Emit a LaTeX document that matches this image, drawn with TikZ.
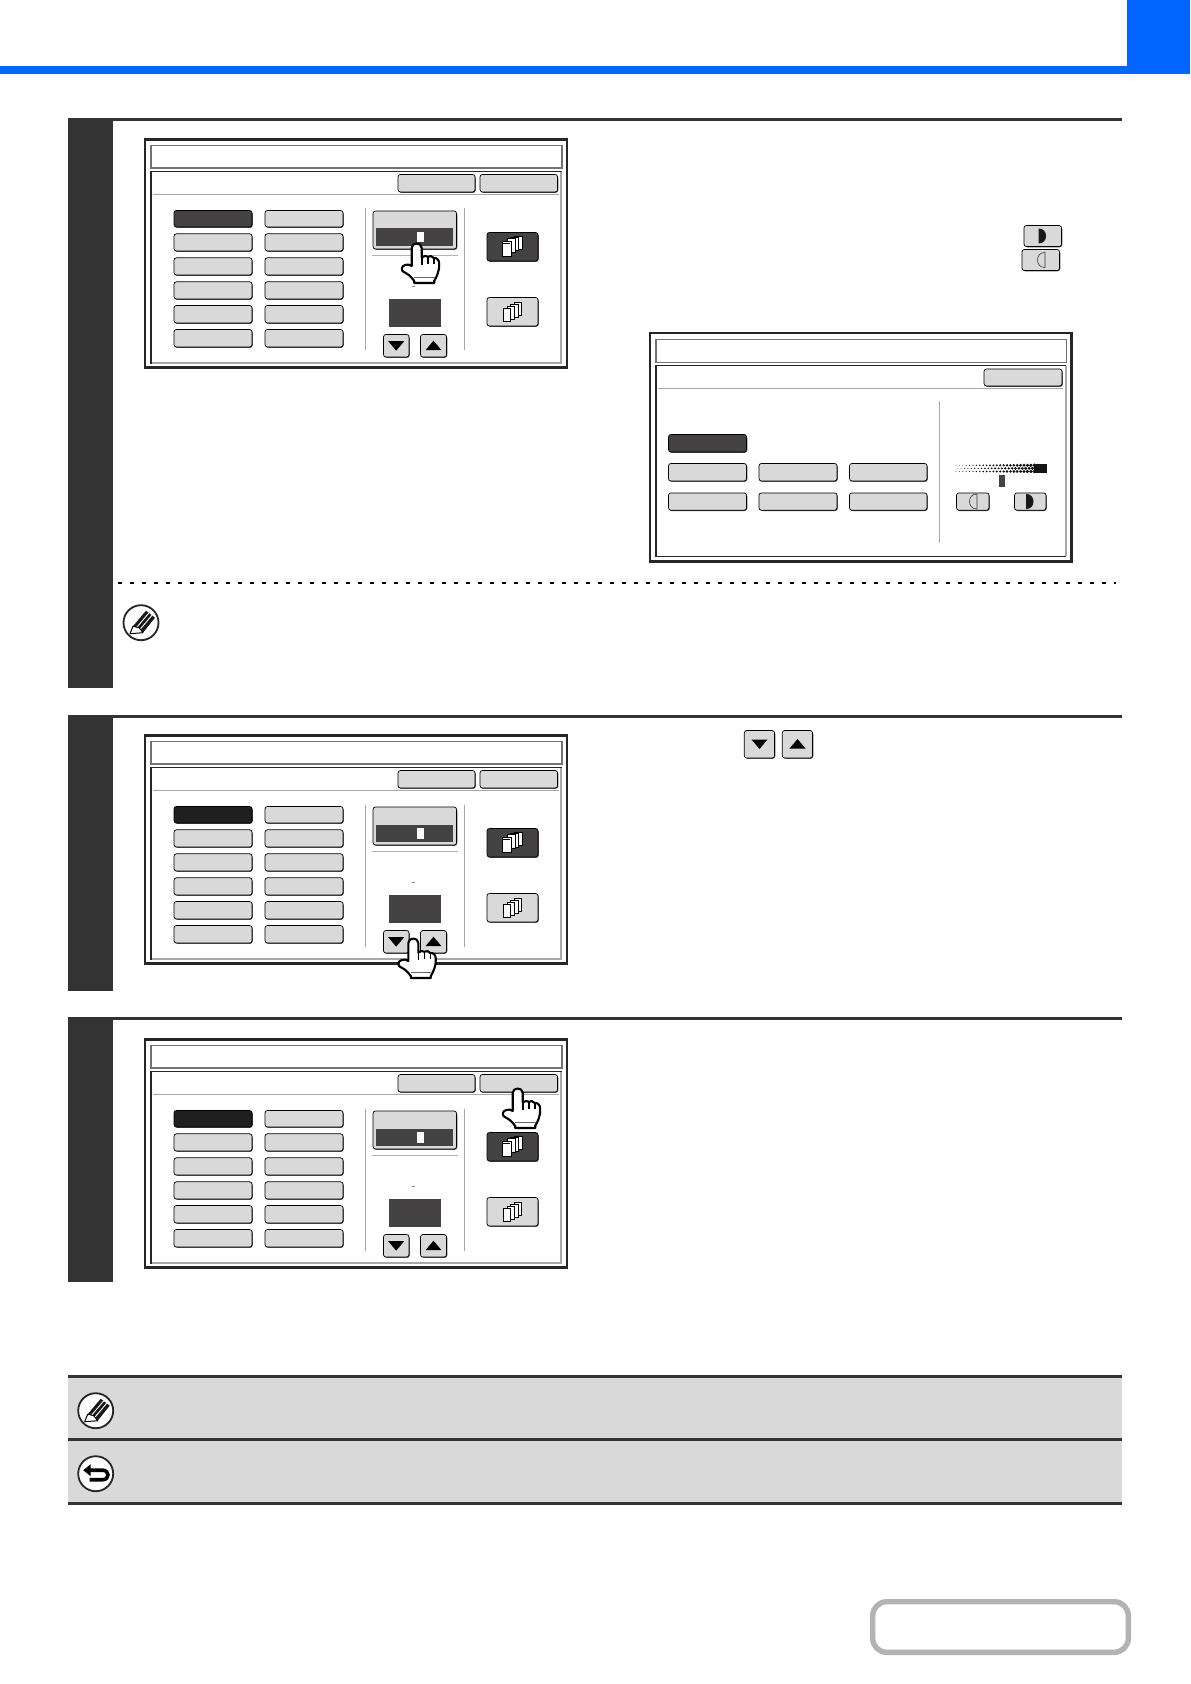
\documentclass[tikz,border=0pt]{standalone}
\usetikzlibrary{calc}
\definecolor{blueb}{HTML}{0066FF}
\definecolor{stepd}{HTML}{333333}
\definecolor{btng}{HTML}{D9D9D9}
\definecolor{paneld}{HTML}{454244}
\definecolor{linegr}{HTML}{A8A8A8}
\definecolor{ringg}{HTML}{B3B3B3}
\definecolor{bandg}{HTML}{D9D9D9}
\tikzset{
  btnbase/.style={rounded corners=1.2pt,line width=0.35pt},
  framer/.style={draw=black!85,line width=1.1pt,fill=white},
  thinbox/.style={draw=black!55,line width=0.55pt,fill=white},
  seprule/.style={draw=linegr,line width=0.45pt},
  hand/.style={draw=black,fill=white,line width=1.05pt,line join=round},
  ico/.style={draw=black,fill=white,line width=0.4pt},
  roundicon/.style={draw=black!85,fill=white,line width=0.9pt},
}
% \btn{fill}{x1}{y1}{x2}{y2}: bevelled button
\newcommand{\btn}[5]{%
  \fill[black!70,rounded corners=1.4pt] (#2+0.6,#3+0.8) rectangle (#4+0.8,#5+0.9);
  \draw[btnbase,draw=black,fill=#1] (#2,#3) rectangle (#4,#5);
}
\newcommand{\uparr}[2]{\fill[black] (#1-8,#2+4.5) -- (#1+8,#2+4.5) -- (#1,#2-5) -- cycle;}
\newcommand{\dnarr}[2]{\fill[black] (#1-8,#2-4.5) -- (#1+8,#2-4.5) -- (#1,#2+5) -- cycle;}
% pages icon: front page lower-left and three behind
\newcommand{\pagesA}[2]{\begin{scope}[shift={(#1,#2)}]
  \foreach \k in {3,2,1}{\draw[ico] (-9+\k*3.4,-6.5-\k*1.4) rectangle (-1+\k*3.4,7-\k*1.4);}
  \draw[ico] (-10,-5) rectangle (-1,10);
  \draw[black,line width=0.4pt] (-10,-3) -- (-3,-3);
\end{scope}}
\newcommand{\pagesB}[2]{\begin{scope}[shift={(#1,#2)}]
  \foreach \k in {3,2,1,0}{\draw[ico] (-9.5+\k*3.7,-3.5-\k*1.9) rectangle (-2+\k*3.7,9.5-\k*1.9);}
\end{scope}}
\newcommand{\moonfull}[2]{\fill[black!90] (#1-4,#2-7.5) .. controls (#1+6,#2-8) and (#1+6,#2+8) .. (#1-4,#2+7.5) -- cycle;}
\newcommand{\moonopen}[2]{\draw[black!80,line width=0.3pt] (#1+4,#2-7.5) .. controls (#1-6,#2-8) and (#1-6,#2+8) .. (#1+4,#2+7.5) -- cycle;}
% hand with finger tip at given point
\newcommand{\handat}[2]{\begin{scope}[shift={(#1,#2)}]
  \draw[hand] (-5,5) .. controls (-5,-1) and (5,-1) .. (5,5) -- (5,14.5)
     .. controls (7,12.5) and (10,12.5) .. (11,13.8)
     .. controls (13,12.5) and (16,13) .. (17,15)
     .. controls (20,14.5) and (22.5,17) .. (22.5,21)
     .. controls (23,27) and (20,34) .. (17.5,38) -- (17.5,40) -- (-2.5,40) -- (-2.5,38)
     .. controls (-6,33) and (-9,31) .. (-12,29.5)
     .. controls (-16,28.5) and (-16,23) .. (-11.5,22)
     .. controls (-9,21) and (-7,21.5) .. (-5,23) -- cycle;
  \draw[black!60,line width=0.7pt] (-2.3,34.5) -- (18,34.5);
  \draw[black,line width=0.8pt] (5,14.5) -- (5,22) (11,13.8) -- (11,21) (17,15) -- (17,21);
\end{scope}}
% the settings panel
\newcommand{\panel}[2]{\begin{scope}[yshift=-#1*0.5pt]
  \path[framer] (145,139.5) rectangle (567,367.5);
  \path[thinbox] (151,145.5) rectangle (562,168);
  \draw[draw=black!85,line width=0.6pt,fill=white] (151,171.5) rectangle (561,363.5);
  \draw[linegr,line width=1.1pt] (561.3,172) -- (561.3,363.3) -- (151.5,363.3);
  \btn{btng}{398}{174.5}{475}{192}
  \btn{btng}{480}{174.5}{557.5}{192}
  \draw[seprule] (153,194.3) -- (559,194.3);
  \btn{#2}{174}{210.5}{252}{227}
  \btn{btng}{265}{210.5}{343}{227}
  \foreach \a/\b in {233.8/251,257.8/275,281.8/299,305.5/323,329.5/347}{
    \btn{btng}{174}{\a}{252}{\b}
    \btn{btng}{265}{\a}{343}{\b}
  }
  \draw[seprule] (365.3,208.5) -- (365.3,350.5) (464.3,208.5) -- (464.3,350.5);
  \btn{btng}{373}{211}{456.5}{249}
  \fill[paneld] (375.5,228.5) rectangle (453.3,245.7);
  \fill[white] (417,232) rectangle (424,242.5);
  \draw[draw=black!30,line width=0.4pt] (372,255.3) -- (458.3,255.3);
  \fill[black!45] (411.5,286) rectangle (415,286.8);
  \fill[paneld] (389.3,299) rectangle (440.7,326.7);
  \btn{btng}{383.5}{334.5}{409}{357}
  \dnarr{396.2}{345.7}
  \btn{btng}{420.5}{334.5}{446.5}{357}
  \uparr{433.5}{345.7}
  \btn{paneld}{487}{232.5}{538}{261}
  \pagesA{512.7}{246.7}
  \btn{btng}{487}{297.5}{538}{326}
  \pagesB{512.7}{311.7}
\end{scope}}
\newcommand{\pencil}[2]{
  \draw[roundicon] (#1,#2) circle[radius=17.5];
  \begin{scope}[shift={(#1,#2)}]
    \fill[black!90] (-8,3.5) -- (5,-12) -- (14,-5) -- (2,10) -- cycle;
    \draw[white,line width=0.45pt] (-5,5.5) -- (8,-9.8) (-2,8) -- (11,-7.5);
    \draw[black,fill=white,line width=0.5pt,line join=round] (-8,3.5) -- (-11,11) -- (2,10) -- (-2,5) -- cycle;
  \end{scope}
}
\begin{document}
\begin{tikzpicture}[x=0.5pt,y=-0.5pt]
\useasboundingbox (0,0) rectangle (1190,1684);
\fill[white] (0,0) rectangle (1190,1684);
% top bar
\fill[blueb] (0,66) rectangle (1190,74);
\fill[blueb] (1126.7,0) rectangle (1190,74);
% step bars
\fill[stepd] (68,118) rectangle (1122,121);
\fill[stepd] (68,118) rectangle (112.7,687.7);
\fill[stepd] (68,715) rectangle (1122,718);
\fill[stepd] (68,715) rectangle (112.7,991);
\fill[stepd] (68,1017) rectangle (1122,1020);
\fill[stepd] (68,1017) rectangle (112.7,1282);
% panels
\panel{0}{paneld}
\panel{596}{black!88}
\panel{900}{black!88}
% hands
\handat{416.7}{243}
\handat{413.3}{938}
\handat{517.7}{1088}
% inline buttons
\btn{btng}{1024}{225.5}{1061.5}{246.5}
\moonfull{1042.5}{236}
\btn{btng}{1022}{249.5}{1059.5}{270.5}
\moonopen{1041}{260}
\btn{btng}{744.3}{730.5}{774.5}{758}
\dnarr{759.5}{744}
\btn{btng}{782.3}{730.5}{812.5}{758}
\uparr{797.5}{744}
% dialog
\path[framer] (650,333.3) rectangle (1071.5,561.5);
\path[thinbox] (656,339.3) rectangle (1066.5,362.3);
\draw[draw=black!85,line width=0.6pt,fill=white] (656,365.5) rectangle (1065.5,556.5);
\draw[linegr,line width=1.1pt] (1065.8,366) -- (1065.8,556.2);
\btn{btng}{984}{369}{1062}{386}
\draw[seprule] (658.3,388.3) -- (1063,388.3);
\draw[seprule] (939.3,401.3) -- (939.3,543.3);
\btn{paneld}{668.5}{434.5}{746.5}{452}
\foreach \a/\b in {463.5/481,492.9/510.2}{
  \btn{btng}{668.5}{\a}{746.5}{\b}
  \btn{btng}{759}{\a}{837}{\b}
  \btn{btng}{849.5}{\a}{927}{\b}
}
% halftone strip
\fill[black!92] (1034,464.3) rectangle (1046.7,472.7);
\foreach \i in {0,...,23}{
  \foreach \j in {0,...,2}{
    \pgfmathsetmacro{\rr}{0.3+1.55*(\i/23)}
    \fill[black!95] ({956+\i*3.4+mod(\j,2)*1.7},{465.3+\j*3.1}) circle[radius=\rr];
  }
}
\fill[paneld] (999,475) rectangle (1005,486.7);
\btn{btng}{956.5}{492.9}{989}{510.2}
\moonopen{973}{501.5}
\btn{btng}{1014.5}{492.9}{1046}{510.2}
\moonfull{1030}{501.5}
% dashed separator
\draw[black,line width=0.95pt,dash pattern=on 2.2pt off 3.8pt] (118,582.7) -- (1116,582.7);
\pencil{141}{622.7}
% bottom bands
\fill[bandg] (68,1377) rectangle (1122,1503);
\fill[stepd] (68,1375) rectangle (1122,1377.8);
\fill[stepd] (68,1438) rectangle (1122,1441);
\fill[stepd] (68,1502) rectangle (1122,1504.8);
\pencil{95.7}{1410.7}
\draw[roundicon] (95.7,1473.7) circle[radius=17.5];
\begin{scope}[shift={(95.7,1473.7)}]
  \draw[black,line width=1.8pt] (-6,-3.5) -- (7,-3.5) .. controls (14,-3.5) and (14,6) .. (7,6) -- (-6,6);
  \fill[black] (-12.5,-3.5) -- (-5,-9.5) -- (-5,2.5) -- cycle;
\end{scope}
% page ring
\draw[ringg,line width=2.7pt,rounded corners=7pt] (872.7,1601.7) rectangle (1128.3,1652.3);
\end{tikzpicture}
\end{document}
